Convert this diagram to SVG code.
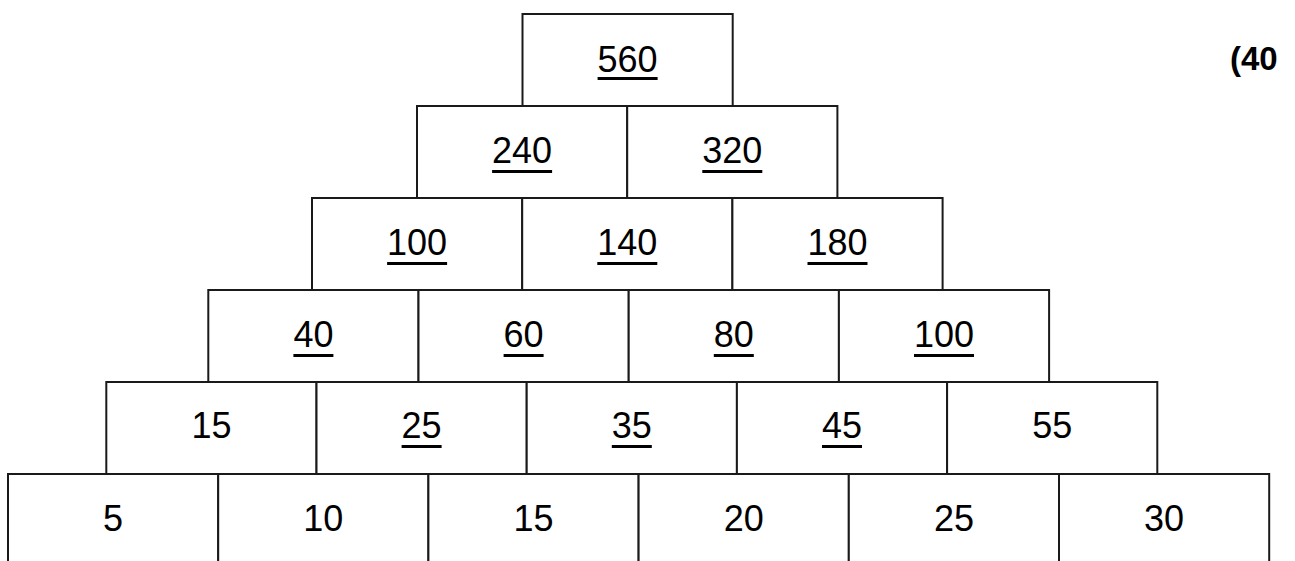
<svg xmlns="http://www.w3.org/2000/svg" width="1295" height="561" viewBox="0 0 1295 561">
<style>
.b{fill:#fff;stroke:#1a1a1a;stroke-width:2}
.t{font-family:"Liberation Sans",Arial,sans-serif;font-size:36px;fill:#000;text-anchor:middle}
.u{fill:#000}
.h{font-family:"Liberation Sans",Arial,sans-serif;font-size:33px;font-weight:bold;fill:#000}
</style>
<rect width="1295" height="561" fill="#fff"/>
<g id="row6">
<g id="n6-1"><rect class="b" x="8" y="474" width="210.2" height="100"/><text class="t" x="113.1" y="531">5</text></g>
<g id="n6-2"><rect class="b" x="218.2" y="474" width="210.2" height="100"/><text class="t" x="323.3" y="531">10</text></g>
<g id="n6-3"><rect class="b" x="428.4" y="474" width="210.2" height="100"/><text class="t" x="533.5" y="531">15</text></g>
<g id="n6-4"><rect class="b" x="638.6" y="474" width="210.2" height="100"/><text class="t" x="743.7" y="531">20</text></g>
<g id="n6-5"><rect class="b" x="848.8" y="474" width="210.2" height="100"/><text class="t" x="953.9" y="531">25</text></g>
<g id="n6-6"><rect class="b" x="1059" y="474" width="210.2" height="100"/><text class="t" x="1164.1" y="531">30</text></g>
</g>
<g id="row5">
<g id="n5-1"><rect class="b" x="106.3" y="382" width="210.2" height="92"/><text class="t" x="211.4" y="438">15</text></g>
<g id="n5-2"><rect class="b" x="316.5" y="382" width="210.2" height="92"/><text class="t" x="421.6" y="438">25</text><rect class="u" x="401.6" y="445" width="40" height="3"/></g>
<g id="n5-3"><rect class="b" x="526.7" y="382" width="210.2" height="92"/><text class="t" x="631.8" y="438">35</text><rect class="u" x="611.8" y="445" width="40" height="3"/></g>
<g id="n5-4"><rect class="b" x="736.9" y="382" width="210.2" height="92"/><text class="t" x="842" y="438">45</text><rect class="u" x="822" y="445" width="40" height="3"/></g>
<g id="n5-5"><rect class="b" x="947.1" y="382" width="210.2" height="92"/><text class="t" x="1052.2" y="438">55</text></g>
</g>
<g id="row4">
<g id="n4-1"><rect class="b" x="208.3" y="290" width="210.2" height="92"/><text class="t" x="313.4" y="347">40</text><rect class="u" x="293.4" y="354" width="40" height="3"/></g>
<g id="n4-2"><rect class="b" x="418.5" y="290" width="210.2" height="92"/><text class="t" x="523.6" y="347">60</text><rect class="u" x="503.6" y="354" width="40" height="3"/></g>
<g id="n4-3"><rect class="b" x="628.7" y="290" width="210.2" height="92"/><text class="t" x="733.8" y="347">80</text><rect class="u" x="713.8" y="354" width="40" height="3"/></g>
<g id="n4-4"><rect class="b" x="838.9" y="290" width="210.2" height="92"/><text class="t" x="944" y="347">100</text><rect class="u" x="914" y="354" width="60" height="3"/></g>
</g>
<g id="row3">
<g id="n3-1"><rect class="b" x="312" y="198" width="210.2" height="92"/><text class="t" x="417.1" y="255">100</text><rect class="u" x="387.1" y="262" width="60" height="3"/></g>
<g id="n3-2"><rect class="b" x="522.2" y="198" width="210.2" height="92"/><text class="t" x="627.3" y="255">140</text><rect class="u" x="597.3" y="262" width="60" height="3"/></g>
<g id="n3-3"><rect class="b" x="732.4" y="198" width="210.2" height="92"/><text class="t" x="837.5" y="255">180</text><rect class="u" x="807.5" y="262" width="60" height="3"/></g>
</g>
<g id="row2">
<g id="n2-1"><rect class="b" x="417" y="106" width="210.2" height="92"/><text class="t" x="522.1" y="163">240</text><rect class="u" x="492.1" y="170" width="60" height="3"/></g>
<g id="n2-2"><rect class="b" x="627.2" y="106" width="210.2" height="92"/><text class="t" x="732.3" y="163">320</text><rect class="u" x="702.3" y="170" width="60" height="3"/></g>
</g>
<g id="row1">
<g id="n1-1"><rect class="b" x="522.5" y="14" width="210.2" height="92"/><text class="t" x="627.6" y="72">560</text><rect class="u" x="597.6" y="77" width="60" height="3"/></g>
</g>
<g id="label"><text class="h" x="1230" y="70">(40</text></g>
</svg>
